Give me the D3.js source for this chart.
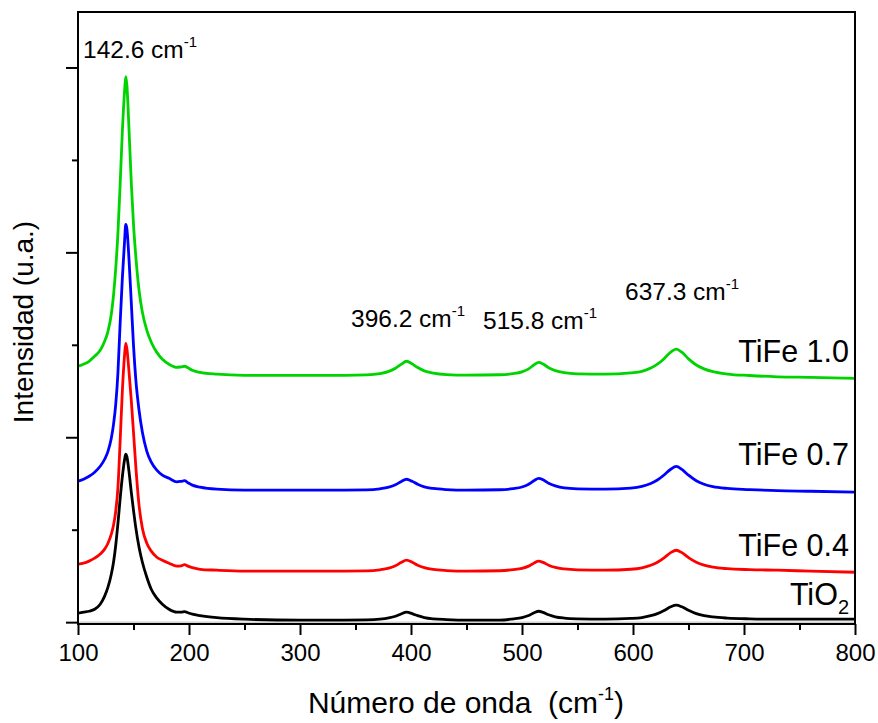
<!DOCTYPE html>
<html>
<head>
<meta charset="utf-8">
<script src="https://cdn.jsdelivr.net/npm/d3@7"></script>
<style>
  html, body { margin: 0; padding: 0; background: #fff; }
  svg { display: block; font-family: "Liberation Sans", Arial, Helvetica, sans-serif; }
</style>
</head>
<body>
<svg id="chart" width="878" height="723"></svg>
<script>
// Raman shift (cm-1) sample positions
const wavenumber = [100,105,110,115,120,124,127,130,132,134,136,138,140,142,143,144,146,148,150,152,155,158,162,166,171,176,182,189,193,196,199,203,210,225,250,300,340,360,372,380,386,391,396,401,406,412,420,432,450,480,492,500,506,511,515,519,524,530,538,550,575,598,608,616,622,628,634,639,644,650,657,664,672,685,705,730,760,800];

// Intensities (u.a.), stacked as in the figure
const tio2 = [0.049,0.054,0.059,0.070,0.097,0.141,0.189,0.259,0.324,0.416,
              0.535,0.670,0.789,0.881,0.908,0.897,0.811,0.703,0.605,0.514,
              0.405,0.324,0.243,0.178,0.130,0.097,0.070,0.054,0.054,0.057,
              0.051,0.043,0.035,0.024,0.016,0.011,0.011,0.012,0.016,0.023,
              0.032,0.044,0.054,0.046,0.035,0.025,0.018,0.014,0.011,0.011,
              0.018,0.025,0.036,0.051,0.059,0.053,0.040,0.029,0.022,0.018,
              0.016,0.020,0.025,0.035,0.046,0.063,0.083,0.092,0.083,0.064,
              0.046,0.035,0.028,0.022,0.018,0.016,0.016,0.016];
const tife04 = [0.314,0.319,0.330,0.346,0.368,0.395,0.427,0.476,0.524,0.600,
                0.730,0.984,1.254,1.449,1.508,1.481,1.351,1.200,1.027,0.849,
                0.632,0.508,0.427,0.384,0.351,0.335,0.319,0.303,0.305,0.311,
                0.303,0.295,0.286,0.281,0.276,0.276,0.276,0.277,0.283,0.292,
                0.305,0.322,0.335,0.324,0.308,0.295,0.285,0.279,0.276,0.278,
                0.284,0.291,0.303,0.320,0.330,0.323,0.308,0.296,0.288,0.283,
                0.281,0.286,0.294,0.308,0.324,0.348,0.376,0.389,0.376,0.349,
                0.324,0.308,0.297,0.289,0.284,0.281,0.276,0.270];
const tife07 = [0.762,0.773,0.789,0.811,0.843,0.881,0.924,0.995,1.070,1.178,
                1.351,1.622,1.865,2.065,2.151,2.130,1.957,1.730,1.497,1.319,
                1.146,1.027,0.924,0.865,0.822,0.795,0.778,0.759,0.762,0.765,
                0.754,0.741,0.730,0.719,0.714,0.714,0.714,0.715,0.721,0.730,
                0.743,0.760,0.773,0.762,0.746,0.732,0.723,0.717,0.714,0.716,
                0.722,0.731,0.746,0.766,0.778,0.770,0.751,0.737,0.726,0.721,
                0.719,0.725,0.734,0.750,0.769,0.796,0.827,0.842,0.826,0.795,
                0.765,0.746,0.733,0.723,0.717,0.711,0.708,0.703];
const tife10 = [1.384,1.395,1.411,1.438,1.470,1.519,1.573,1.665,1.768,1.914,
                2.108,2.373,2.659,2.876,2.951,2.908,2.659,2.378,2.151,1.984,
                1.795,1.676,1.578,1.514,1.459,1.422,1.395,1.378,1.381,1.384,
                1.376,1.362,1.351,1.341,1.335,1.335,1.335,1.337,1.344,1.356,
                1.373,1.394,1.411,1.397,1.377,1.359,1.347,1.339,1.336,1.338,
                1.344,1.354,1.370,1.392,1.405,1.396,1.376,1.360,1.349,1.343,
                1.341,1.348,1.356,1.374,1.395,1.425,1.461,1.477,1.460,1.424,
                1.391,1.370,1.355,1.342,1.334,1.327,1.324,1.319];

const seriesNames = ["TiO2", "TiFe 0.4", "TiFe 0.7", "TiFe 1.0"];
const seriesColors = ["#000000", "#ff0000", "#0000ff", "#00d400"];
const seriesValues = [tio2, tife04, tife07, tife10];

const xMajorTicks = [100,200,300,400,500,600,700,800];
const xMinorTicks = [150,250,350,450,550,650,750];
const yMajorTicks = [0,1,2,3];
const yMinorTicks = [0.5,1.5,2.5];

const peakLabels = [
  {text: "142.6 cm", sup: "-1"},
  {text: "396.2 cm", sup: "-1"},
  {text: "515.8 cm", sup: "-1"},
  {text: "637.3 cm", sup: "-1"}
];

const svg = d3.select("#chart");
const L = 78, R = 855, T = 12, B = 624;

const x = d3.scaleLinear().domain([100, 800]).range([L, R]);
const y = d3.scaleLinear().domain([-0.01, 3.3]).range([B, T]);

svg.append("defs").append("clipPath").attr("id", "clip")
  .append("rect").attr("x", L).attr("y", T).attr("width", R - L).attr("height", B - T);

// faint inner line at zero level
svg.append("line").attr("x1", L).attr("x2", R).attr("y1", y(0)).attr("y2", y(0))
  .attr("stroke", "#bbbbbb").attr("stroke-width", 1);

// spectra
const line = d3.line().x(d => x(d[0])).y(d => y(d[1])).curve(d3.curveMonotoneX);
const g = svg.append("g").attr("clip-path", "url(#clip)");
seriesValues.forEach((vals, i) => {
  g.append("path")
    .datum(wavenumber.map((w, k) => [w, vals[k]]))
    .attr("d", line)
    .attr("fill", "none")
    .attr("stroke", seriesColors[i])
    .attr("stroke-width", 2.8)
    .attr("stroke-linejoin", "round");
});

// axes
const axStyle = sel => {
  sel.select(".domain").remove();
  sel.selectAll(".tick line").attr("stroke", "#000").attr("stroke-width", 2);
};
svg.append("g").attr("transform", `translate(0,${B})`)
  .call(d3.axisBottom(x).tickValues(xMajorTicks).tickSize(11).tickPadding(9).tickFormat(d3.format("d")))
  .call(axStyle)
  .call(s => s.selectAll("text").attr("font-size", 24).attr("fill", "#000")
    .attr("font-family", '"Liberation Sans", Arial, sans-serif'));
svg.append("g").attr("transform", `translate(0,${B})`)
  .call(d3.axisBottom(x).tickValues(xMinorTicks).tickSize(6).tickFormat(""))
  .call(axStyle);
svg.append("g").attr("transform", `translate(${L},0)`)
  .call(d3.axisLeft(y).tickValues(yMajorTicks).tickSize(12).tickFormat(""))
  .call(axStyle);
svg.append("g").attr("transform", `translate(${L},0)`)
  .call(d3.axisLeft(y).tickValues(yMinorTicks).tickSize(6).tickFormat(""))
  .call(axStyle);

// frame
svg.append("rect").attr("x", L).attr("y", T).attr("width", R - L).attr("height", B - T)
  .attr("fill", "none").attr("stroke", "#000").attr("stroke-width", 2);

// peak labels
const peakPos = [[83, 58], [351, 327], [483, 329], [625, 300]];
peakLabels.forEach((p, i) => {
  const t = svg.append("text").attr("x", peakPos[i][0]).attr("y", peakPos[i][1])
    .attr("font-size", 24.5).attr("fill", "#000");
  t.append("tspan").text(p.text);
  t.append("tspan").attr("font-size", 15).attr("dy", -11).text(p.sup);
});

// series labels
const labelY = [605, 556, 465, 362];
seriesNames.forEach((n, i) => {
  const t = svg.append("text").attr("x", 849).attr("y", labelY[i])
    .attr("text-anchor", "end").attr("font-size", 30.5).attr("fill", "#000");
  if (n === "TiO2") {
    t.append("tspan").text("TiO");
    t.append("tspan").attr("font-size", 20).attr("dy", 9).text("2");
  } else {
    t.text(n);
  }
});

// axis titles
const xt = svg.append("text").attr("x", 466).attr("y", 713).attr("text-anchor", "middle")
  .attr("font-size", 30).attr("fill", "#000");
xt.append("tspan").text("Número de onda \u00a0(cm");
xt.append("tspan").attr("font-size", 18).attr("dy", -13).text("-1");
xt.append("tspan").attr("dy", 13).text(")");

svg.append("text").attr("transform", "translate(33,322) rotate(-90)")
  .attr("text-anchor", "middle").attr("font-size", 28).attr("fill", "#000")
  .text("Intensidad (u.a.)");
</script>
</body>
</html>
